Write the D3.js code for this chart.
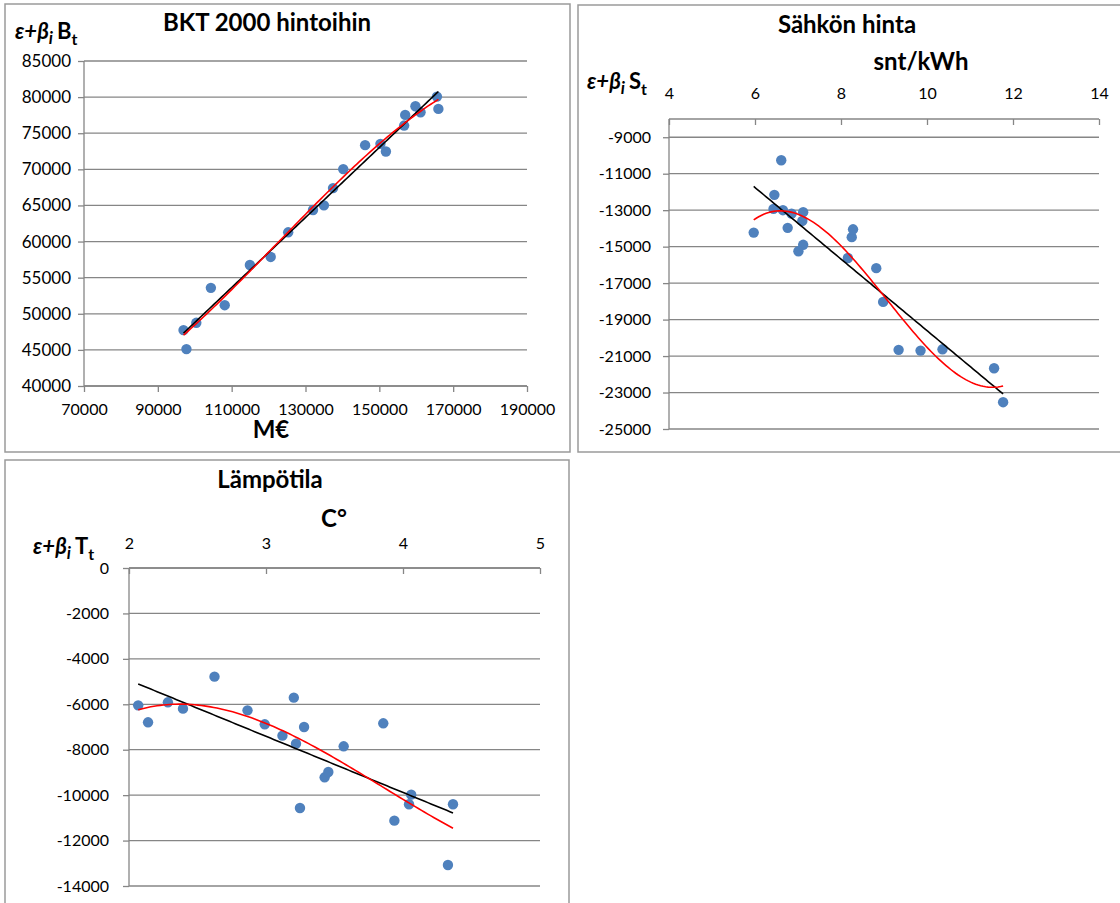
<!DOCTYPE html>
<html>
<head>
<meta charset="utf-8">
<script src="https://cdn.jsdelivr.net/npm/d3@7"></script>
<style>
  html, body { margin: 0; padding: 0; background: #fff; }
  svg { display: block; font-family: Lato, "Open Sans", sans-serif; }
</style>
</head>
<body>
<svg id="chart" width="1120" height="903"></svg>
<script>
// ---------- Data ----------
// Panel 1: BKT 2000 hintoihin (M€) vs ε+β_i B_t
const gdpX = [96960, 97750, 100420, 104370, 108120, 114940, 120570, 125310, 132030, 134990, 137460,
              140220, 146150, 150300, 151780, 156720, 157010, 159780, 161160, 165600, 166000];
const gdpY = [47740, 45110, 48750, 53590, 51190, 56760, 57870, 61280, 64370, 65010, 67400,
              70030, 73350, 73530, 72470, 76060, 77540, 78740, 77910, 80070, 78370];
const gdpXTicks = [70000, 90000, 110000, 130000, 150000, 170000, 190000];
const gdpYTicks = [40000, 45000, 50000, 55000, 60000, 65000, 70000, 75000, 80000, 85000];

// Panel 2: Sähkön hinta (snt/kWh) vs ε+β_i S_t
const priceX = [5.97, 6.61, 6.45, 6.43, 6.65, 6.85, 6.76, 7.12, 7.10, 7.12, 7.01,
                8.16, 8.25, 8.28, 8.82, 8.98, 9.34, 9.85, 10.36, 11.56, 11.77];
const priceY = [-14230, -10260, -12160, -12930, -13000, -13190, -13970, -13110, -13590, -14900, -15250,
                -15620, -14480, -14050, -16180, -18030, -20660, -20700, -20630, -21670, -23530];
const priceXTicks = [4, 6, 8, 10, 12, 14];
const priceYTicks = [-9000, -11000, -13000, -15000, -17000, -19000, -21000, -23000, -25000];

// Panel 3: Lämpötila (C°) vs ε+β_i T_t
const tempX = [2.067, 2.139, 2.284, 2.394, 2.624, 2.865, 2.991, 3.120, 3.203, 3.219, 3.278,
               3.248, 3.428, 3.455, 3.567, 3.856, 3.937, 4.044, 4.060, 4.328, 4.365];
const tempY = [-6046, -6794, -5913, -6192, -4784, -6266, -6882, -7381, -5708, -7733, -7000,
               -10565, -9215, -8980, -7850, -6838, -11122, -10403, -9978, -13074, -10403];
const tempXTicks = [2, 3, 4, 5];
const tempYTicks = [0, -2000, -4000, -6000, -8000, -10000, -12000, -14000];

// ---------- Helpers ----------
function polyfit(xs, ys, deg) {
  const mx = d3.mean(xs), sx = d3.deviation(xs);
  const t = xs.map(x => (x - mx) / sx);
  const n = deg + 1;
  const A = Array.from({length: n}, () => new Array(n + 1).fill(0));
  for (let i = 0; i < n; i++) {
    for (let j = 0; j < n; j++) A[i][j] = d3.sum(t, v => Math.pow(v, i + j));
    A[i][n] = d3.sum(t, (v, k) => ys[k] * Math.pow(v, i));
  }
  for (let c = 0; c < n; c++) {
    let p = c;
    for (let r = c + 1; r < n; r++) if (Math.abs(A[r][c]) > Math.abs(A[p][c])) p = r;
    [A[c], A[p]] = [A[p], A[c]];
    for (let r = 0; r < n; r++) {
      if (r === c) continue;
      const f = A[r][c] / A[c][c];
      for (let k = c; k <= n; k++) A[r][k] -= f * A[c][k];
    }
  }
  const coef = A.map((row, i) => row[n] / row[i]);
  return x => { const u = (x - mx) / sx; return coef.reduce((s, c, k) => s + c * Math.pow(u, k), 0); };
}

const svg = d3.select("#chart");
const GRID = "#868686";
const DOT = "#4F81BD";

function yLabel(g, x, y, letter) {
  const t = g.append("text").attr("x", x).attr("y", y)
    .attr("font-size", 22).attr("font-weight", "bold").attr("fill", "#000");
  t.append("tspan").attr("font-style", "italic").text("ε+β");
  t.append("tspan").attr("font-style", "italic").attr("font-size", 17).attr("dy", 5).text("i");
  t.append("tspan").attr("dy", -5).attr("dx", 4).text(letter);
  t.append("tspan").attr("font-size", 16).attr("dy", 6).text("t");
}

function panel(cfg) {
  const g = svg.append("g");
  g.append("rect").attr("x", cfg.frame[0]).attr("y", cfg.frame[1])
    .attr("width", cfg.frame[2]).attr("height", cfg.frame[3])
    .attr("fill", "#fff").attr("stroke", "#9a9a9a").attr("stroke-width", 1.5);

  const x = d3.scaleLinear().domain(cfg.xDomain).range([cfg.left, cfg.right]);
  const y = d3.scaleLinear().domain(cfg.yDomain).range([cfg.bottom, cfg.top]);

  // gridlines
  g.append("g").selectAll("line").data(cfg.yTicks).join("line")
    .attr("x1", cfg.left).attr("x2", cfg.right)
    .attr("y1", d => y(d)).attr("y2", d => y(d))
    .attr("stroke", GRID).attr("stroke-width", 1.3);

  // y axis
  const yAxis = g.append("g").attr("transform", `translate(${cfg.left},0)`)
    .call(d3.axisLeft(y).tickValues(cfg.yTicks).tickSize(6).tickPadding(cfg.yPad).tickFormat(d3.format("d")));
  yAxis.select(".domain").attr("stroke", GRID).attr("stroke-width", 1.3)
    .attr("d", `M0,${cfg.top}V${cfg.bottom}`);
  yAxis.selectAll(".tick line").attr("stroke", GRID).attr("stroke-width", 1.3);
  yAxis.selectAll(".tick text").attr("font-size", cfg.ySize).attr("fill", "#000")
    .attr("font-family", "Lato, sans-serif").text(d => d < 0 ? "-" + Math.abs(d) : d);

  // x axis
  const xAxisY = cfg.xTop ? cfg.top : cfg.bottom;
  const axisGen = cfg.xTop ? d3.axisTop(x) : d3.axisBottom(x);
  const xAxis = g.append("g").attr("transform", `translate(0,${xAxisY})`)
    .call(axisGen.tickValues(cfg.xTicks).tickSize(0).tickPadding(0).tickFormat(d3.format("d")));
  xAxis.select(".domain").attr("stroke", GRID).attr("stroke-width", 1.3)
    .attr("d", `M${cfg.left},0H${cfg.right}`);
  xAxis.selectAll(".tick line").attr("y1", 0).attr("y2", 6)
    .attr("stroke", GRID).attr("stroke-width", 1.3);
  xAxis.selectAll(".tick text").attr("font-size", 16).attr("fill", "#000")
    .attr("font-family", "Lato, sans-serif")
    .attr("dy", null).attr("dominant-baseline", "middle")
    .attr("y", cfg.xLabelY - xAxisY);

  // points
  const pts = cfg.xs.map((v, i) => [v, cfg.ys[i]]);
  g.append("g").selectAll("circle").data(pts).join("circle")
    .attr("cx", d => x(d[0])).attr("cy", d => y(d[1])).attr("r", 5.2)
    .attr("fill", DOT);

  // trend lines (linear and 3rd-order polynomial least squares)
  const [x0, x1] = d3.extent(cfg.xs);
  const samples = d3.range(0, 101).map(i => x0 + (x1 - x0) * i / 100);
  const lin = polyfit(cfg.xs, cfg.ys, 1);
  const cub = polyfit(cfg.xs, cfg.ys, 3);
  const line = f => d3.line().x(d => x(d)).y(d => y(f(d)))(samples);
  g.append("path").attr("d", line(lin)).attr("fill", "none").attr("stroke", "#000").attr("stroke-width", 1.6);
  g.append("path").attr("d", line(cub)).attr("fill", "none").attr("stroke", "#ff0000").attr("stroke-width", 1.6);

  // titles
  g.append("text").attr("x", cfg.title[0]).attr("y", cfg.title[1]).attr("text-anchor", "middle")
    .attr("dominant-baseline", "middle").attr("font-size", 24).attr("font-weight", "bold").text(cfg.title[2]);
  g.append("text").attr("x", cfg.unit[0]).attr("y", cfg.unit[1]).attr("text-anchor", "middle")
    .attr("dominant-baseline", "middle").attr("font-size", cfg.unit[3]).attr("font-weight", "bold").text(cfg.unit[2]);
  yLabel(g, cfg.ylab[0], cfg.ylab[1], cfg.ylab[2]);
}

panel({
  frame: [5, 4, 565, 448],
  left: 84, right: 527, top: 61, bottom: 386,
  xDomain: [70000, 190000], yDomain: [40000, 85000],
  xTicks: gdpXTicks, yTicks: gdpYTicks, xTop: false, xLabelY: 411, yPad: 7, ySize: 17,
  xs: gdpX, ys: gdpY,
  title: [267, 25, "BKT 2000 hintoihin"],
  unit: [271, 432, "M€", 24],
  ylab: [15, 39, "B"]
});

panel({
  frame: [578, 5, 545, 447],
  left: 669, right: 1099, top: 119, bottom: 429,
  xDomain: [4, 14], yDomain: [-25000, -8000],
  xTicks: priceXTicks, yTicks: priceYTicks, xTop: true, xLabelY: 95, yPad: 12, ySize: 16,
  xs: priceX, ys: priceY,
  title: [847, 27, "Sähkön hinta"],
  unit: [921, 64, "snt/kWh", 24],
  ylab: [587, 89, "S"]
});

panel({
  frame: [5, 460, 564, 460],
  left: 129, right: 540, top: 568, bottom: 886,
  xDomain: [2, 5], yDomain: [-14000, 0],
  xTicks: tempXTicks, yTicks: tempYTicks, xTop: true, xLabelY: 545, yPad: 14, ySize: 16,
  xs: tempX, ys: tempY,
  title: [270, 482, "Lämpötila"],
  unit: [334, 521, "C°", 24],
  ylab: [33, 554, "T"]
});
</script>
</body>
</html>
